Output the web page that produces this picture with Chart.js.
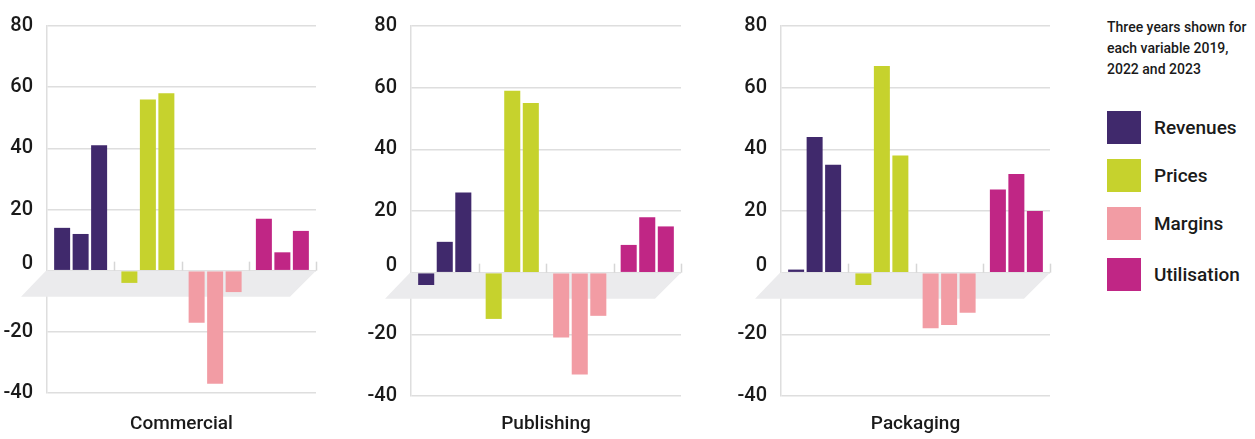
<!DOCTYPE html>
<html>
<head>
<meta charset="utf-8">
<script src="https://cdn.jsdelivr.net/npm/chart.js@4"></script>
<style>
  html, body { margin: 0; padding: 0; background: #ffffff; }
  body { width: 1255px; height: 439px; position: relative; overflow: hidden;
         font-family: Roboto, 'DejaVu Sans', sans-serif; font-weight: 500; color: #1a1a1a; }
  .panel { position: absolute; top: 0; height: 439px; }
  .panel canvas { display: block; }
  #legend { position: absolute; left: 1107px; top: 0; width: 150px; }
  #legend .title { position: absolute; left: 0; top: 17px; width: 150px; font-size: 14px; line-height: 21px; white-space: nowrap; }
  #legend .item { position: absolute; left: 0; height: 33px; width: 150px; }
  #legend .swatch { position: absolute; left: 0; top: 0; width: 34px; height: 33px; }
  #legend .lab { position: absolute; left: 47px; top: 0; line-height: 33px; font-size: 19px; white-space: nowrap; }
</style>
</head>
<body>
<div class="panel" id="p1" style="left:0px;width:330px;"><canvas id="c1"></canvas></div>
<div class="panel" id="p2" style="left:364px;width:331px;"><canvas id="c2"></canvas></div>
<div class="panel" id="p3" style="left:734px;width:330px;"><canvas id="c3"></canvas></div>
<div id="legend"></div>
<script>
// ---- data ----
const categories = ['Revenues', 'Prices', 'Margins', 'Utilisation'];
const years = ['2019', '2022', '2023'];
const panelTitles = ['Commercial', 'Publishing', 'Packaging'];
const categoryColors = ['#40296c', '#c6d22d', '#f29ca4', '#c02685'];
const yTicks = [-40, -20, 0, 20, 40, 60, 80];
const legendTitle = 'Three years shown for\neach variable 2019,\n2022 and 2023';

const commercial2019 = [14, -4, -17, 17];
const commercial2022 = [12, 56, -37, 6];
const commercial2023 = [41, 58, -7, 13];

const publishing2019 = [-4, -15, -21, 9];
const publishing2022 = [10, 59, -33, 18];
const publishing2023 = [26, 55, -14, 15];

const packaging2019 = [1, -4, -18, 27];
const packaging2022 = [44, 67, -17, 32];
const packaging2023 = [35, 38, -13, 20];

const FONT = "Roboto, 'DejaVu Sans', sans-serif";
const TEXT = '#1a1a1a';
const GRID = '#dedede';

// Floor + category ticks + shifted zero label
const floorPlugin = {
  id: 'floor',
  beforeDatasetsDraw(chart) {
    const {ctx, chartArea, scales} = chart;
    const y0 = scales.y.getPixelForValue(0);
    const d = 26;
    ctx.save();
    ctx.fillStyle = '#ebebed';
    ctx.beginPath();
    ctx.moveTo(chartArea.left - 1, y0);
    ctx.lineTo(chartArea.right, y0);
    ctx.lineTo(chartArea.right - d, y0 + d);
    ctx.lineTo(chartArea.left - d, y0 + d);
    ctx.closePath();
    ctx.fill();
    // category boundary ticks
    ctx.strokeStyle = '#d6d6d6';
    ctx.lineWidth = 1.5;
    const n = categories.length;
    for (let i = 1; i <= n; i++) {
      let x;
      if (i < n) x = (scales.x.getPixelForValue(i - 1) + scales.x.getPixelForValue(i)) / 2;
      else x = chartArea.right;
      x = Math.round(x) + 0.5;
      ctx.beginPath();
      ctx.moveTo(x, y0 - 9);
      ctx.lineTo(x, y0);
      ctx.stroke();
    }
    ctx.restore();
  },
  afterDraw(chart) {
    const {ctx, scales} = chart;
    const y0 = scales.y.getPixelForValue(0);
    ctx.save();
    ctx.font = '500 20px ' + FONT;
    ctx.fillStyle = TEXT;
    ctx.textAlign = 'right';
    ctx.textBaseline = 'middle';
    ctx.fillText('0', scales.y.right - 14, y0 - 7);
    ctx.restore();
  }
};

function makeChart(id, title, s2019, s2022, s2023, padTop, xHeight) {
  const series = [s2019, s2022, s2023];
  return new Chart(document.getElementById(id), {
    type: 'bar',
    data: {
      labels: categories,
      datasets: years.map((yr, i) => ({
        label: yr,
        data: series[i],
        backgroundColor: categoryColors,
        borderWidth: 0,
        categoryPercentage: 0.825,
        barPercentage: 0.865
      }))
    },
    options: {
      responsive: true,
      maintainAspectRatio: false,
      animation: false,
      layout: { padding: { top: padTop, right: 14, bottom: 0, left: 0 } },
      plugins: { legend: { display: false }, tooltip: { enabled: false } },
      scales: {
        x: {
          grid: { display: false, drawTicks: false },
          border: { display: false },
          ticks: { display: false },
          title: {
            display: true,
            text: title,
            color: TEXT,
            font: { family: FONT, size: 19, weight: '500', lineHeight: 1.2 },
            padding: { top: 0, bottom: 3 }
          },
          afterFit(scale) { scale.height = xHeight; }
        },
        y: {
          min: -40,
          max: 80,
          afterBuildTicks(scale) { scale.ticks = yTicks.map(v => ({ value: v })); },
          grid: { color: GRID, lineWidth: 1.5, drawTicks: false },
          border: { display: true, color: GRID, width: 1.5 },
          ticks: {
            padding: 14,
            color: TEXT,
            font: { family: FONT, size: 20, weight: '500' },
            callback: (v) => (v === 0 ? '' : String(v))
          },
          afterFit(scale) { scale.width = 47; }
        }
      }
    },
    plugins: [floorPlugin]
  });
}

makeChart('c1', panelTitles[0], commercial2019, commercial2022, commercial2023, 21, 46);
makeChart('c2', panelTitles[1], publishing2019, publishing2022, publishing2023, 23, 43);
makeChart('c3', panelTitles[2], packaging2019, packaging2022, packaging2023, 23, 43);

// legend (HTML)
const legend = document.getElementById('legend');
const t = document.createElement('div');
t.className = 'title';
t.innerHTML = legendTitle.split('\n').join('<br>');
legend.appendChild(t);
const legendTops = [111, 159, 207, 258];
categories.forEach((c, i) => {
  const item = document.createElement('div');
  item.className = 'item';
  item.style.top = legendTops[i] + 'px';
  const sw = document.createElement('div');
  sw.className = 'swatch';
  sw.style.background = categoryColors[i];
  const lab = document.createElement('div');
  lab.className = 'lab';
  lab.textContent = c;
  item.appendChild(sw);
  item.appendChild(lab);
  legend.appendChild(item);
});
</script>
</body>
</html>
